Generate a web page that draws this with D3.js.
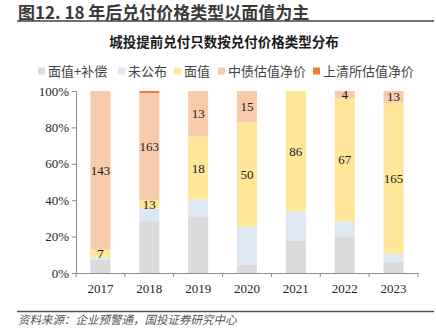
<!DOCTYPE html>
<html><head><meta charset="utf-8">
<script src="https://cdn.jsdelivr.net/npm/d3@7"></script>
<style>body{margin:0;background:#fff}svg{display:block}</style>
</head><body>
<svg id="c" width="436" height="330"></svg>
<script>
const years = ['2017','2018','2019','2020','2021','2022','2023'];
const faceComp = [12,79,16,4,23,20,12];      // 面值+补偿
const undisclosed = [2,19,5,18,21,8,9];      // 未公布
const face = [7,13,18,50,86,67,165];         // 面值
const chinaBond = [143,163,13,15,0,4,13];    // 中债估值净价
const shClear = [0,3,0,0,0,0,0];             // 上清所估值净价
const seriesNames = ['面值+补偿','未公布','面值','中债估值净价','上清所估值净价'];
const seriesKeys = ['faceComp','undisclosed','face','chinaBond','shClear'];
const colors = ['#DBDBDB','#DDE8F4','#FFE699','#F8CBAD','#ED7D31'];
const yTicks = [0,0.2,0.4,0.6,0.8,1];
const labeled = ['face','chinaBond'];

const rows = years.map((y,i)=>({year:y,faceComp:faceComp[i],undisclosed:undisclosed[i],face:face[i],chinaBond:chinaBond[i],shClear:shClear[i]}));
const stack = d3.stack().keys(seriesKeys).offset(d3.stackOffsetExpand);
const layers = stack(rows);

const svg = d3.select('#c');
const cjk = '"Noto Sans CJK SC","Noto Sans",sans-serif';
const serif = '"Liberation Serif","Times New Roman",serif';

// header
svg.append('text').attr('x',18).attr('y',18.5).attr('font-family',cjk).attr('font-weight','bold')
  .attr('font-size',17).attr('fill','#3a3a3a').text('图12. 18 年后兑付价格类型以面值为主');
svg.append('line').attr('x1',17).attr('x2',434).attr('y1',21).attr('y2',21).attr('stroke','#404040').attr('stroke-width',1.5);
svg.append('text').attr('x',224).attr('y',47).attr('text-anchor','middle').attr('font-family',cjk).attr('font-weight','bold')
  .attr('font-size',13.5).attr('fill','#1a1a1a').text('城投提前兑付只数按兑付价格类型分布');

// legend
const legX = [38,118,174,218,313];
seriesNames.forEach((n,i)=>{
  svg.append('rect').attr('x',legX[i]).attr('y',67.5).attr('width',7).attr('height',7).attr('fill',colors[i]);
  svg.append('text').attr('x',legX[i]+10).attr('y',76).attr('font-family',cjk).attr('font-size',13)
    .attr('fill','#444').text(n);
});

const m = {l:76, r:418, t:91, b:273};
const x = d3.scaleBand().domain(years).range([m.l,m.r]).paddingInner(0.59).paddingOuter(0.295);
const y = d3.scaleLinear().domain([0,1]).range([m.b,m.t]);

const g = svg.append('g');
layers.forEach((layer,li)=>{
  g.selectAll(null).data(layer).enter().append('rect')
    .attr('x',d=>x(d.data.year)).attr('width',x.bandwidth())
    .attr('y',d=>y(d[1])).attr('height',d=>Math.max(0,y(d[0])-y(d[1])))
    .attr('fill',colors[li]);
  if(labeled.includes(layer.key)){
    g.selectAll(null).data(layer.filter(d=>d.data[layer.key]>0)).enter().append('text')
      .attr('x',d=>x(d.data.year)+x.bandwidth()/2).attr('y',d=>y((d[0]+d[1])/2)+4.5)
      .attr('text-anchor','middle').attr('font-family',serif).attr('font-size',13).attr('fill','#1a1a1a')
      .text(d=>d.data[layer.key]);
  }
});

// y axis
const yAxis = svg.append('g').attr('transform',`translate(${m.l},0)`)
  .call(d3.axisLeft(y).tickValues(yTicks).tickFormat(d3.format('.0%')).tickSize(4).tickPadding(3));
yAxis.select('.domain').attr('stroke','#8c8c8c');
yAxis.selectAll('.tick line').attr('stroke','#8c8c8c');
yAxis.selectAll('text').attr('font-family',serif).attr('font-size',13).attr('fill','#262626');

// x axis
const xAxis = svg.append('g').attr('transform',`translate(0,${m.b})`)
  .call(d3.axisBottom(x).tickSize(0).tickPadding(11));
xAxis.select('.domain').attr('stroke','#8c8c8c');
xAxis.selectAll('text').attr('font-family',serif).attr('font-size',13).attr('fill','#262626');
const step = x.step();
d3.range(years.length+1).forEach(i=>{
  const xx = m.l + i*step;
  xAxis.append('line').attr('x1',xx).attr('x2',xx).attr('y1',0).attr('y2',4).attr('stroke','#8c8c8c');
});

// footer
svg.append('line').attr('x1',17).attr('x2',434).attr('y1',311.5).attr('y2',311.5).attr('stroke','#555').attr('stroke-width',1.5);
svg.append('text').attr('x',18).attr('y',324).attr('font-family',cjk).attr('font-style','italic')
  .attr('font-size',11.5).attr('fill','#555').text('资料来源：企业预警通，国投证券研究中心');
</script>
</body></html>
